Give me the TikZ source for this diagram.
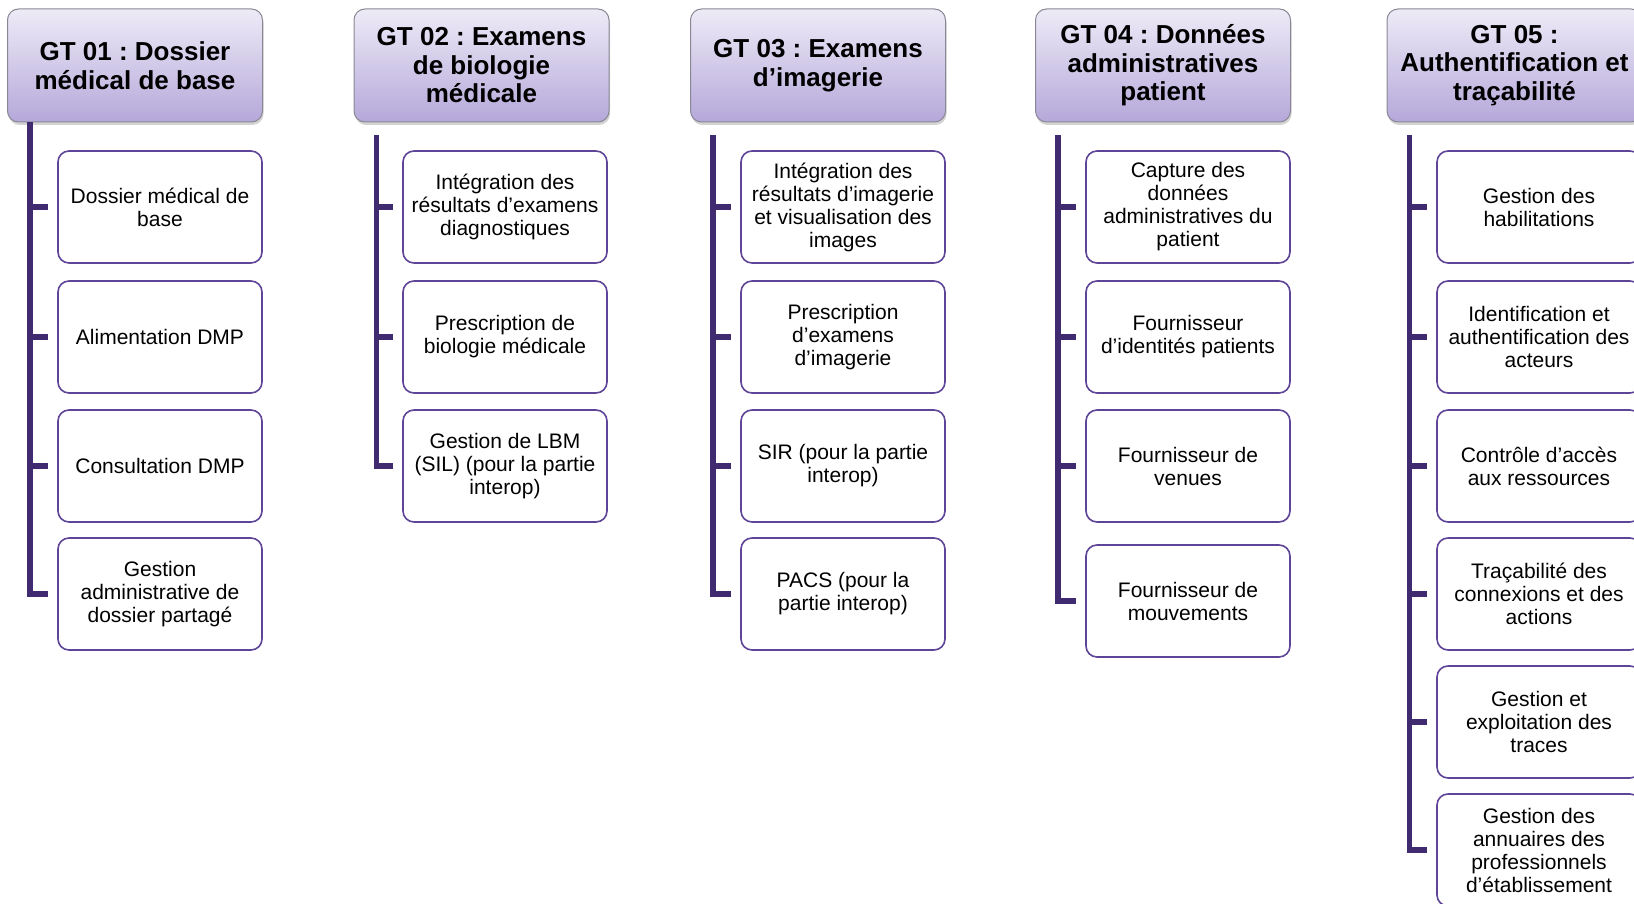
\documentclass[tikz,border=0pt]{standalone}
\usepackage{fontspec}
\setmainfont{Liberation Sans}
\usetikzlibrary{shadows}
\frenchspacing

\definecolor{gtTop}{HTML}{EEEBF7}
\definecolor{gtBottom}{HTML}{B5A8DA}
\definecolor{gtBorder}{HTML}{8A8794}
\definecolor{taskBorder}{HTML}{5E4598}
\definecolor{branchColor}{HTML}{402A70}

\begin{document}
\begin{tikzpicture}[x=1pt,y=-1pt,
  gtbox/.style={rectangle,rounded corners=11pt,draw=gtBorder,line width=1pt,
    top color=gtTop,bottom color=gtBottom,minimum width=255pt,minimum height=113pt,
    align=center,inner sep=2pt,font=\fontsize{26}{28.5}\selectfont\bfseries,
    drop shadow={shadow xshift=1pt,shadow yshift=-3pt,opacity=0.35}},
  taskbox/.style={rectangle,rounded corners=11pt,draw=taskBorder,line width=1.6pt,
    fill=white,minimum width=204pt,minimum height=112pt,align=center,inner sep=2pt,
    font=\fontsize{21}{23}\selectfont},
  branch/.style={draw=branchColor,line width=5.5pt}]

  \useasboundingbox (0,0) rectangle (1634,904);

  % Draw the work groups
  \node[gtbox] (gt1) at (135,65.5)    {GT 01 : Dossier\\médical de base};
  \node[gtbox] (gt2) at (481.5,65.5)  {GT 02 : Examens\\de biologie\\médicale};
  \node[gtbox] (gt3) at (818,65.5)    {GT 03 : Examens\\d’imagerie};
  \node[gtbox] (gt4) at (1163,65.5)   {GT 04 : Données\\administratives\\patient};
  \node[gtbox] (gt5) at (1514.5,65.5) {GT 05 :\\Authentification et\\traçabilité};

  % GT 01
  \node[taskbox] (t11) at (160,207) {Dossier médical de\\base};
  \node[taskbox] (t12) at (160,337) {Alimentation DMP};
  \node[taskbox] (t13) at (160,466) {Consultation DMP};
  \node[taskbox] (t14) at (160,594) {Gestion\\administrative de\\dossier partagé};

  % GT 02
  \node[taskbox] (t21) at (505,207) {Intégration des\\résultats d’examens\\diagnostiques};
  \node[taskbox] (t22) at (505,337) {Prescription de\\biologie médicale};
  \node[taskbox] (t23) at (505,466) {Gestion de LBM\\(SIL) (pour la partie\\interop)};

  % GT 03
  \node[taskbox] (t31) at (843,207) {Intégration des\\résultats d’imagerie\\et visualisation des\\images};
  \node[taskbox] (t32) at (843,337) {Prescription\\d’examens\\d’imagerie};
  \node[taskbox] (t33) at (843,466) {SIR (pour la partie\\interop)};
  \node[taskbox] (t34) at (843,594) {PACS (pour la\\partie interop)};

  % GT 04
  \node[taskbox] (t41) at (1188,207) {Capture des\\données\\administratives du\\patient};
  \node[taskbox] (t42) at (1188,337) {Fournisseur\\d’identités patients};
  \node[taskbox] (t43) at (1188,466) {Fournisseur de\\venues};
  \node[taskbox] (t44) at (1188,601) {Fournisseur de\\mouvements};

  % GT 05
  \node[taskbox] (t51) at (1539,207) {Gestion des\\habilitations};
  \node[taskbox] (t52) at (1539,337) {Identification et\\authentification des\\acteurs};
  \node[taskbox] (t53) at (1539,466) {Contrôle d’accès\\aux ressources};
  \node[taskbox] (t54) at (1539,594) {Traçabilité des\\connexions et des\\actions};
  \node[taskbox] (t55) at (1539,722) {Gestion et\\exploitation des\\traces};
  \node[taskbox] (t56) at (1539,850) {Gestion des\\annuaires des\\professionnels\\d’établissement};

  % Draw the branches
  \foreach \g/\n/\gap in {1/4/0,2/3/13,3/4/13,4/4/13,5/6/13}
    \foreach \c in {1,...,\n}
      \draw[branch] ([xshift=23pt,yshift=-\gap pt]gt\g.south west) |- ([xshift=-9pt]t\g\c.west);

\end{tikzpicture}
\end{document}
